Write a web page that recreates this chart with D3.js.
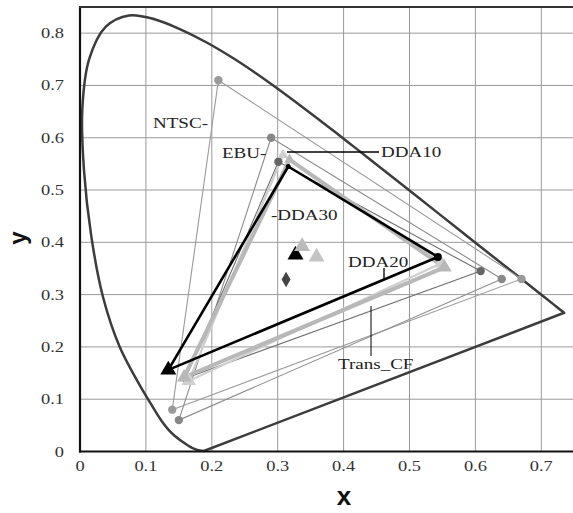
<!DOCTYPE html>
<html><head><meta charset="utf-8">
<script src="https://cdn.jsdelivr.net/npm/d3@7"></script>
<style>html,body{margin:0;padding:0;background:#fff;}svg{display:block;}</style>
</head><body>
<svg id="c" width="573" height="513"></svg>
<script>
// Spectral locus (chromaticity boundary as drawn in the picture)
const locusX = [0.188,0.178,0.170,0.1644,0.1566,0.1440,0.1355,0.1241,0.1096,0.088,0.060,0.035,0.017,0.006,0.0035,0.0139,0.0389,0.0743,0.1142,0.1547,0.1929,0.2296,0.2658,0.3016,0.3373,0.3731,0.4087,0.4441,0.4788,0.5125,0.5448,0.5752,0.6029,0.6270,0.6658,0.6915,0.7079,0.7190,0.7260,0.7334,0.7347];
const locusY = [0.001,0.003,0.007,0.0109,0.0177,0.0297,0.0399,0.0578,0.0868,0.1327,0.2007,0.2950,0.4127,0.5384,0.6548,0.7502,0.8120,0.8338,0.8262,0.8059,0.7816,0.7543,0.7243,0.6923,0.6589,0.6245,0.5896,0.5547,0.5202,0.4866,0.4544,0.4242,0.3965,0.3725,0.3340,0.3083,0.2920,0.2809,0.2740,0.2666,0.2653];

// Gamut triangles: [R, G, B] vertices
const gamutNames = ["NTSC","EBU","Trans_CF","DDA10","DDA30","DDA20"];
const gamutX = [[0.67,0.21,0.14],[0.64,0.29,0.15],[0.608,0.301,0.16],[0.548,0.308,0.165],[0.553,0.318,0.158],[0.543,0.316,0.134]];
const gamutY = [[0.33,0.71,0.08],[0.33,0.60,0.06],[0.345,0.554,0.14],[0.36,0.567,0.135],[0.352,0.558,0.142],[0.372,0.545,0.156]];

// White points
const whiteX = [0.3127,0.327,0.337,0.359];
const whiteY = [0.329,0.376,0.392,0.372];

const xTicks = [0,0.1,0.2,0.3,0.4,0.5,0.6,0.7];
const yTicks = [0,0.1,0.2,0.3,0.4,0.5,0.6,0.7,0.8];
const xTickLabels = ["0","0.1","0.2","0.3","0.4","0.5","0.6","0.7"];
const yTickLabels = ["0","0.1","0.2","0.3","0.4","0.5","0.6","0.7","0.8"];

const svg = d3.select("#c");
const x = d3.scaleLinear().domain([0,0.75]).range([80,574.25]);
const y = d3.scaleLinear().domain([0,0.85]).range([451.5,7]);

// grid
const g = svg.append("g");
g.selectAll("line.v").data(xTicks.slice(1)).join("line")
  .attr("x1",d=>x(d)).attr("x2",d=>x(d)).attr("y1",y(0.85)).attr("y2",y(0))
  .attr("stroke","#9a9a9a").attr("stroke-width",1);
g.selectAll("line.h").data(yTicks.slice(1)).join("line")
  .attr("x1",x(0)).attr("x2",573).attr("y1",d=>y(d)).attr("y2",d=>y(d))
  .attr("stroke","#9a9a9a").attr("stroke-width",1);

// locus
const locus = locusX.map((v,i)=>[v,locusY[i]]);
svg.append("path")
  .attr("d", d3.line().x(d=>x(d[0])).y(d=>y(d[1])).curve(d3.curveCatmullRom)(locus) + "Z")
  .attr("fill","none").attr("stroke","#3c3c3c").attr("stroke-width",2.5).attr("stroke-linejoin","round");

// triangles styles
const styles = {
  "NTSC":{c:"#9a9a9a",w:1.1,dot:"#9a9a9a"},
  "EBU":{c:"#8c8c8c",w:1.1,dot:"#888"},
  "Trans_CF":{c:"#6e6e6e",w:1.1,dot:"#666"},
  "DDA10":{c:"#cfcfcf",w:2.2,dot:null},
  "DDA30":{c:"#b8b8b8",w:4,dot:null},
  "DDA20":{c:"#000",w:2.6,dot:null}
};
gamutNames.forEach((n,i)=>{
  const pts = gamutX[i].map((v,j)=>[x(v),y(gamutY[i][j])]);
  const s = styles[n];
  svg.append("polygon").attr("points",pts.map(p=>p.join(",")).join(" "))
    .attr("fill","none").attr("stroke",s.c).attr("stroke-width",s.w).attr("stroke-linejoin","round");
});
gamutNames.forEach((n,i)=>{
  const s = styles[n];
  if(s.dot){
    gamutX[i].forEach((v,j)=>{
      svg.append("circle").attr("cx",x(v)).attr("cy",y(gamutY[i][j])).attr("r",4.2).attr("fill",s.dot);
    });
  }
});
const tri = d3.symbol().type(d3.symbolTriangle);
function triMark(px,py,col,size){
  svg.append("path").attr("d",tri.size(size)()).attr("transform",`translate(${px},${py})`).attr("fill",col);
}
[3,4].forEach(i=>{
  const col = i===3 ? "#cfcfcf" : "#b8b8b8";
  triMark(x(gamutX[i][0]),y(gamutY[i][0]),col,90);
  triMark(x(gamutX[i][2]),y(gamutY[i][2]),col,90);
  triMark(x(gamutX[i][1]),y(gamutY[i][1]),col,50);
});
triMark(x(gamutX[5][2]),y(gamutY[5][2]),"#000",110);
svg.append("circle").attr("cx",x(gamutX[5][0])).attr("cy",y(gamutY[5][0])).attr("r",4).attr("fill","#000");
svg.append("circle").attr("cx",x(gamutX[5][1])).attr("cy",y(gamutY[5][1])).attr("r",2.5).attr("fill","#000");

// white points
svg.append("path").attr("d",d3.symbol().type(d3.symbolDiamond).size(70)())
  .attr("transform",`translate(${x(whiteX[0])},${y(whiteY[0])})`).attr("fill","#444");
triMark(x(whiteX[1]),y(whiteY[1]),"#000",110);
triMark(x(whiteX[2]),y(whiteY[2]),"#bbb",110);
triMark(x(whiteX[3]),y(whiteY[3]),"#c4c4c4",110);

// axes frame
svg.append("line").attr("x1",x(0)).attr("x2",x(0)).attr("y1",y(0.85)).attr("y2",y(0)+1).attr("stroke","#111").attr("stroke-width",2.2);
svg.append("line").attr("x1",x(0)-1).attr("x2",573).attr("y1",y(0)).attr("y2",y(0)).attr("stroke","#111").attr("stroke-width",2.2);
svg.append("line").attr("x1",x(0)-1).attr("x2",573).attr("y1",y(0.85)).attr("y2",y(0.85)).attr("stroke","#333").attr("stroke-width",2);

// tick labels
const serif = "'Liberation Serif','Times New Roman',serif";
function stext(tx,ty,str,anchor,size){
  return svg.append("text").attr("transform",`translate(${tx},${ty}) scale(1.27,1)`)
    .attr("text-anchor",anchor||"start").attr("font-family",serif).attr("font-size",size||14)
    .attr("fill","#222").text(str);
}
xTicks.forEach((t,i)=>stext(x(t),471,xTickLabels[i],"middle",14.5).attr("fill","#333"));
yTicks.forEach((t,i)=>stext(64,y(t)+5,yTickLabels[i],"end",14.5).attr("fill","#333"));

// axis titles
svg.append("text").attr("x",344).attr("y",505).attr("text-anchor","middle")
  .attr("font-family","'Liberation Sans',Arial,sans-serif").attr("font-weight","bold").attr("font-size",26).attr("fill","#111").text("x");
svg.append("text").attr("transform","translate(26,238) rotate(-90)").attr("text-anchor","middle")
  .attr("font-family","'Liberation Sans',Arial,sans-serif").attr("font-weight","bold").attr("font-size",24).attr("fill","#111").text("y");

// labels with pointers
stext(153,128,"NTSC-","start",15);
stext(222,158,"EBU-","start",15);
stext(381,157,"DDA10","start",15);
svg.append("line").attr("x1",287).attr("x2",379).attr("y1",152).attr("y2",152).attr("stroke","#000").attr("stroke-width",1.3);
stext(271,220,"-DDA30","start",15);
stext(348,267,"DDA20","start",15);
svg.append("line").attr("x1",384).attr("x2",384).attr("y1",268).attr("y2",279).attr("stroke","#000").attr("stroke-width",1.3);
stext(338,369,"Trans_CF","start",15);
svg.append("line").attr("x1",371).attr("x2",371).attr("y1",306).attr("y2",356).attr("stroke","#000").attr("stroke-width",1);
</script>
</body></html>
